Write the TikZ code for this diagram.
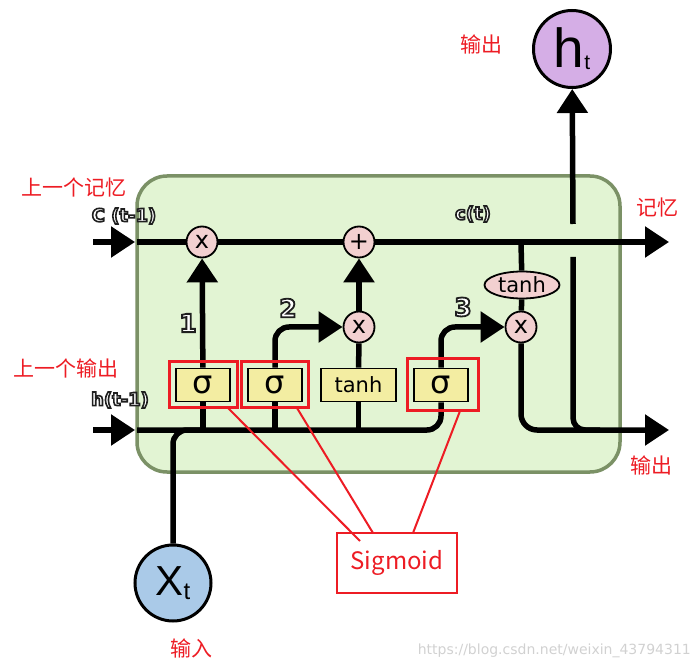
\documentclass[tikz,border=0pt]{standalone}
\usepackage{fontspec}
\setmainfont{DejaVu Sans}
\newfontfamily\cjk{Noto Sans CJK SC}
\newfontfamily\arialf{Liberation Sans}
\usetikzlibrary{arrows.meta,shapes.geometric}
\definecolor{cellfill}{HTML}{E2F4D3}
\definecolor{celldraw}{HTML}{7B9166}
\definecolor{pinkc}{HTML}{F2D0D0}
\definecolor{yellowc}{HTML}{F3EDA2}
\definecolor{bluec}{HTML}{AACAE8}
\definecolor{purplec}{HTML}{D5AEE6}
\definecolor{redc}{HTML}{ED1C24}
\newcommand{\outlinetext}[2]{{\color{white}\special{pdf:literal direct 0.12 G 2 Tr #1 w}#2\special{pdf:literal direct 0 Tr}}}
\begin{document}
\begin{tikzpicture}[x=1pt,y=-1pt,
  line/.style={line width=5.5pt, black},
  arr/.style={line, -{Triangle[length=24pt,width=30pt]}},
  op/.style={circle, draw, line width=1.8pt, fill=pinkc, minimum size=31pt, inner sep=0pt, font=\fontsize{24}{24}\selectfont},
  gate/.style={draw, line width=1.8pt, fill=yellowc, minimum width=54pt, minimum height=33pt, inner sep=0pt},
  sig/.style={gate, font=\fontsize{32}{32}\selectfont},
  redbox/.style={draw=redc, line width=3pt, inner sep=0pt},
  redl/.style={draw=redc, line width=2pt},
  lab/.style={text=redc, font=\cjk\fontsize{21}{21}\selectfont, inner sep=0pt},
  outl/.style={font=\bfseries\fontsize{18}{18}\selectfont, inner sep=0pt},
  num/.style={font=\bfseries\fontsize{25}{25}\selectfont, inner sep=0pt}]
\useasboundingbox (0,0) rectangle (697,671);
% cell
\node[draw=celldraw, fill=cellfill, line width=3.5pt, rounded corners=30pt,
      minimum width=483pt, minimum height=296pt] (cell) at (378.5,324) {};
% operators
\node[op] (m1) at (202,242) {x};
\node[op] (pl) at (359,242) {+};
\node[op] (m2) at (359,327) {x};
\node[op] (m3) at (521,327) {x};
\node[ellipse, draw, line width=1.8pt, fill=pinkc, minimum width=75pt, minimum height=27pt, inner sep=0pt,
      font=\fontsize{21}{21}\selectfont] (te) at (522,285) {tanh};
% gates
\node[sig] (s1) at (203,385) {σ};
\node[sig] (s2) at (275,385) {σ};
\node[gate, minimum width=75pt, font=\fontsize{21}{21}\selectfont] (tb) at (358.5,385) {tanh};
\node[sig] (s3) at (441,385) {σ};
% in/out circles
\node[circle, draw, line width=3pt, fill=bluec, minimum size=76pt, inner sep=0pt] (xt) at (173,583)
  {\arialf\fontsize{42}{42}\selectfont X\raisebox{-4pt}{\fontsize{24}{24}\selectfont t}};
\node[circle, draw, line width=3pt, fill=purplec, minimum size=77pt, inner sep=0pt] (ht) at (572,49)
  {\arialf\fontsize{55}{55}\selectfont h\raisebox{-2pt}{\fontsize{21}{21}\selectfont t}};
% coordinates
\coordinate (cin) at (93,242);
\coordinate (cin2) at (135,242);
\coordinate (c0) at (137,242);
\coordinate (cout) at (669,242);
\coordinate (j3) at (521,242);
\coordinate (hin) at (93,430);
\coordinate (hin2) at (135,430);
\coordinate (h0) at (137,430);
\coordinate (b1) at (203,430);
\coordinate (b2) at (275,430);
\coordinate (b3) at (358.5,430);
\coordinate (hout) at (669,430);
\coordinate (v1) at (573,257);
\coordinate (v2) at (600,430);
\coordinate (v3) at (573,224);
% cell state line
\draw[arr] (cin) -- (cin2);
\draw[line] (c0) -- (m1);
\draw[line] (m1) -- (pl);
\draw[arr] (pl) -- (cout);
% hidden input line
\draw[arr] (hin) -- (hin2);
\draw[line, rounded corners=14pt] (h0) -| (s3);
\draw[line, rounded corners=14pt] (xt) |- (b1);
\draw[line] (s1) -- (b1);
\draw[line] (s2) -- (b2);
\draw[line] (tb) -- (b3);
% gates to ops
\draw[arr] (s1) -- (m1);
\draw[arr, rounded corners=14pt] (s2) |- (m2);
\draw[line] (tb) -- (m2);
\draw[arr] (m2) -- (pl);
\draw[arr, rounded corners=14pt] (s3) |- (m3);
\draw[line] (j3) -- (te);
\draw[line] (te) -- (m3);
\draw[arr, rounded corners=16pt] (m3) |- (hout);
\draw[line, rounded corners=12pt] (v1) |- (v2);
\draw[arr] (v3) -- (ht);
% white outlined labels
\node[outl] (lc) at (124,216) {\outlinetext{1.6}{C (t-1)}};
\node[outl] (lh) at (120,400) {\outlinetext{1.6}{h(t-1)}};
\node[outl] (lct) at (473,214) {\outlinetext{1.6}{c(t)}};
\node[num] (n1) at (188,323) {\outlinetext{1.8}{1}};
\node[num] (n2) at (288,308) {\outlinetext{1.8}{2}};
\node[num] (n3) at (463,307) {\outlinetext{1.8}{3}};
% red annotation
\node[redbox, minimum width=68pt, minimum height=46pt] (r1) at (203,385) {};
\node[redbox, minimum width=67pt, minimum height=46pt] (r2) at (274.5,385) {};
\node[redbox, minimum width=71pt, minimum height=52pt] (r3) at (442.5,385) {};
\node[draw=redc, line width=2.5pt, minimum width=120pt, minimum height=60pt, text=redc,
      font=\cjk\fontsize{24}{24}\selectfont] (sg) at (397,563) {Sigmoid};
\coordinate (p1) at (228,408);
\coordinate (q1) at (360,541);
\coordinate (p2) at (297,408);
\coordinate (q2) at (373,533);
\coordinate (p3) at (460,411);
\coordinate (q3) at (413,533);
\draw[redl] (p1) -- (q1);
\draw[redl] (p2) -- (q2);
\draw[redl] (p3) -- (q3);
% red chinese labels
\node[lab] (t1) at (74,188) {上一个记忆};
\node[lab] (t2) at (66,368) {上一个输出};
\node[lab] (t3) at (657,208) {记忆};
\node[lab] (t4) at (651,465) {输出};
\node[lab] (t5) at (481,44) {输出};
\node[lab] (t6) at (191,648) {输入};
% watermark
\node[text=black!18, font=\fontsize{14}{14}\selectfont, inner sep=0pt, anchor=east] (wm) at (691,651) {https://blog.csdn.net/weixin\_43794311};
\end{tikzpicture}
\end{document}
